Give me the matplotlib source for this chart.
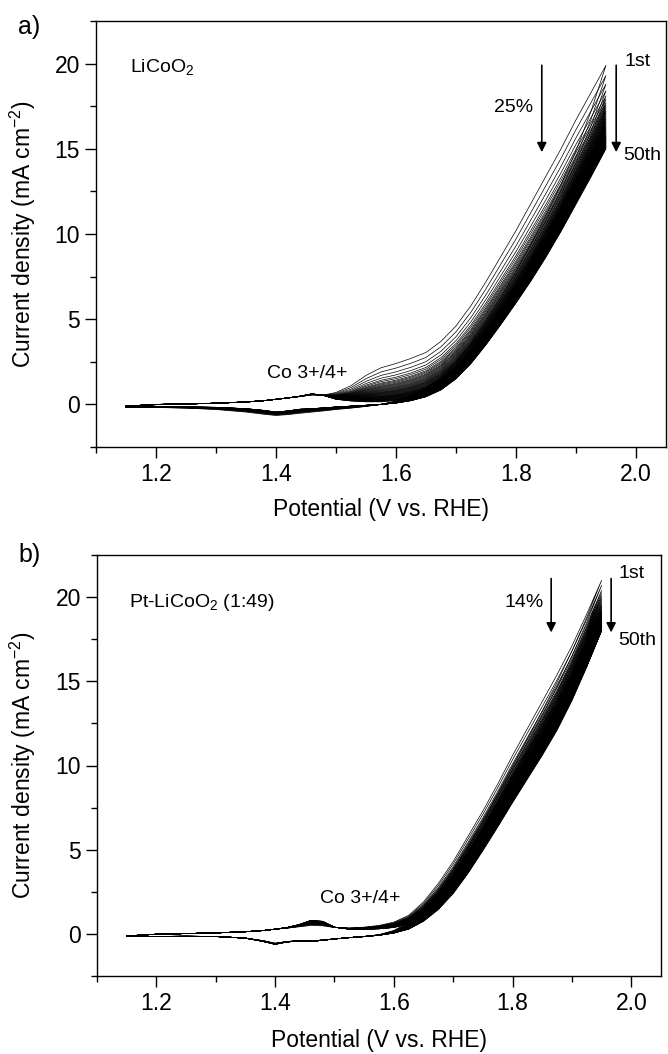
import numpy as np
import matplotlib
matplotlib.use("Agg")
import matplotlib.pyplot as plt
from matplotlib.ticker import MultipleLocator

plt.rcParams["font.family"] = ["Liberation Sans", "DejaVu Sans"]
plt.rcParams["mathtext.fontset"] = "custom"
plt.rcParams["mathtext.rm"] = "Liberation Sans"
plt.rcParams["mathtext.it"] = "Liberation Sans:italic"

# ── potential grid (V vs. RHE) ────────────────────────────────────
E = [1.15, 1.20, 1.25, 1.30, 1.35, 1.38, 1.40, 1.42, 1.44, 1.46, 1.48, 1.50,
     1.525, 1.55, 1.575, 1.60, 1.625, 1.65, 1.675, 1.70, 1.725, 1.75, 1.775,
     1.80, 1.825, 1.85, 1.875, 1.90, 1.925, 1.95]

# ── a) LiCoO2, current density (mA cm-2) ─────────────────────────
a_first_fwd = [-0.12, -0.02, 0.02, 0.07, 0.15, 0.22, 0.30, 0.38, 0.46, 0.55, 0.55, 0.70,
               1.10, 1.70, 2.15, 2.40, 2.70, 3.05, 3.70, 4.60, 5.80, 7.20, 8.70,
               10.20, 11.80, 13.40, 15.00, 16.70, 18.30, 19.90]
a_first_rev = [-0.15, -0.18, -0.22, -0.30, -0.45, -0.58, -0.65, -0.60, -0.52, -0.45, -0.38, -0.30,
               -0.22, -0.12, 0.00, 0.20, 0.50, 0.95, 1.60, 2.50, 3.60, 4.90, 6.30,
               7.80, 9.40, 11.10, 12.90, 14.90, 17.20, 19.90]
a_last_fwd = [-0.10, 0.00, 0.03, 0.07, 0.14, 0.22, 0.30, 0.38, 0.48, 0.62, 0.52, 0.30,
              0.20, 0.15, 0.15, 0.22, 0.38, 0.65, 1.10, 1.80, 2.70, 3.80, 5.00,
              6.20, 7.50, 8.90, 10.40, 12.00, 13.50, 15.00]
a_last_rev = [-0.15, -0.15, -0.15, -0.17, -0.25, -0.35, -0.45, -0.38, -0.28, -0.25, -0.20, -0.15,
              -0.10, -0.05, 0.00, 0.08, 0.22, 0.45, 0.85, 1.50, 2.40, 3.50, 4.70,
              5.95, 7.25, 8.65, 10.15, 11.75, 13.35, 15.00]
# current at 1.95 V for selected cycles
a_cycles = [1, 2, 3, 4, 5, 7, 10, 15, 20, 30, 40, 50]
a_end = [19.9, 19.3, 18.8, 18.4, 18.1, 17.7, 17.3, 16.8, 16.4, 15.8, 15.4, 15.0]

# ── b) Pt-LiCoO2 (1:49) ───────────────────────────────────────────
b_first_fwd = [-0.12, -0.02, 0.02, 0.06, 0.13, 0.20, 0.28, 0.34, 0.42, 0.50, 0.48, 0.38,
               0.35, 0.40, 0.50, 0.70, 1.10, 1.90, 3.00, 4.30, 5.80, 7.30, 8.90,
               10.60, 12.20, 13.80, 15.40, 17.10, 19.00, 21.00]
b_first_rev = [-0.15, -0.15, -0.15, -0.16, -0.25, -0.40, -0.55, -0.45, -0.40, -0.42, -0.36, -0.30,
               -0.22, -0.15, -0.05, 0.20, 0.70, 1.50, 2.50, 3.80, 5.20, 6.70, 8.30,
               9.95, 11.60, 13.25, 14.95, 16.80, 18.80, 21.00]
b_last_fwd = [-0.12, -0.02, 0.02, 0.06, 0.13, 0.20, 0.28, 0.38, 0.55, 0.80, 0.75, 0.40,
              0.28, 0.28, 0.30, 0.38, 0.60, 1.05, 1.75, 2.75, 4.00, 5.30, 6.70,
              8.10, 9.50, 10.80, 12.30, 14.00, 15.90, 18.00]
b_last_rev = [-0.15, -0.15, -0.14, -0.15, -0.25, -0.45, -0.62, -0.48, -0.42, -0.45, -0.38, -0.30,
              -0.22, -0.16, -0.08, 0.05, 0.28, 0.75, 1.45, 2.40, 3.60, 4.95, 6.35,
              7.80, 9.20, 10.60, 12.10, 13.85, 15.85, 18.00]
b_cycles = [1, 2, 3, 5, 10, 20, 30, 40, 50]
b_end = [21.0, 20.7, 20.4, 20.1, 19.6, 19.0, 18.6, 18.3, 18.0]

N_CYCLES = 50


def draw_cycles(ax, first_f, first_r, last_f, last_r, chk_cyc, chk_end):
    e = np.array(E)
    f1, r1 = np.array(first_f), np.array(first_r)
    f2, r2 = np.array(last_f), np.array(last_r)
    ends = np.interp(np.arange(1, N_CYCLES + 1), chk_cyc, chk_end)
    for end in ends:
        w = (end - chk_end[-1]) / (chk_end[0] - chk_end[-1])
        fwd = f2 + w * (f1 - f2)
        rev = r2 + w * (r1 - r2)
        ax.plot(np.concatenate([e, e[::-1]]), np.concatenate([fwd, rev[::-1]]),
                color="black", lw=0.5)


def style_axes(ax):
    ax.set_xlim(1.1, 2.05)
    ax.set_ylim(-2.5, 22.5)
    ax.xaxis.set_major_locator(MultipleLocator(0.2))
    ax.xaxis.set_minor_locator(MultipleLocator(0.1))
    ax.yaxis.set_major_locator(MultipleLocator(5))
    ax.yaxis.set_minor_locator(MultipleLocator(2.5))
    ax.xaxis.set_major_formatter(plt.FuncFormatter(lambda v, p: f"{v:.1f}"))
    ax.tick_params(which="major", direction="out", length=8, width=1.0,
                   labelsize=16.5, top=False, right=False)
    ax.tick_params(which="minor", direction="out", length=4, width=1.0,
                   top=False, right=False)
    for s in ax.spines.values():
        s.set_linewidth(1.0)
    ax.set_xlabel("Potential (V vs. RHE)", fontsize=16.5)
    ax.set_ylabel("Current density (mA cm$^{-2}$)", fontsize=16.5)


fig = plt.figure(figsize=(6.68, 10.54), dpi=100)
ax_a = fig.add_axes([96 / 668, 607 / 1054, 570 / 668, 426 / 1054])
ax_b = fig.add_axes([97 / 668, 78 / 1054, 564 / 668, 421 / 1054])

arrow = dict(arrowstyle="-|>", color="black", lw=1.2, mutation_scale=14, shrinkA=0, shrinkB=0)

# ── panel a ──
draw_cycles(ax_a, a_first_fwd, a_first_rev, a_last_fwd, a_last_rev, a_cycles, a_end)
style_axes(ax_a)
ax_a.xaxis.set_label_coords(0.5, -0.12)
ax_a.yaxis.set_label_coords(-0.102, 0.5)
ax_a.text(1.157, 19.8, "LiCoO$_2$", fontsize=14, va="center")
ax_a.text(1.385, 1.8, "Co 3+/4+", fontsize=14, va="center")
ax_a.text(1.763, 17.4, "25%", fontsize=14, va="center")
ax_a.text(1.980, 20.1, "1st", fontsize=14, va="center")
ax_a.text(1.978, 14.6, "50th", fontsize=14, va="center")
ax_a.annotate("", xy=(1.843, 14.8), xytext=(1.843, 19.9), arrowprops=arrow)
ax_a.annotate("", xy=(1.967, 14.8), xytext=(1.967, 19.9), arrowprops=arrow)

# ── panel b ──
draw_cycles(ax_b, b_first_fwd, b_first_rev, b_last_fwd, b_last_rev, b_cycles, b_end)
style_axes(ax_b)
ax_b.xaxis.set_label_coords(0.5, -0.125)
ax_b.yaxis.set_label_coords(-0.105, 0.5)
ax_b.text(1.154, 19.7, "Pt-LiCoO$_2$ (1:49)", fontsize=14, va="center")
ax_b.text(1.475, 2.1, "Co 3+/4+", fontsize=14, va="center")
ax_b.text(1.786, 19.7, "14%", fontsize=14, va="center")
ax_b.text(1.978, 21.4, "1st", fontsize=14, va="center")
ax_b.text(1.978, 17.4, "50th", fontsize=14, va="center")
ax_b.annotate("", xy=(1.865, 17.9), xytext=(1.865, 21.1), arrowprops=arrow)
ax_b.annotate("", xy=(1.966, 17.9), xytext=(1.966, 21.1), arrowprops=arrow)

fig.text(0.027, 0.974, "a)", fontsize=18, va="center")
fig.text(0.027, 0.473, "b)", fontsize=18, va="center")

fig.savefig("out.png", dpi=100)
